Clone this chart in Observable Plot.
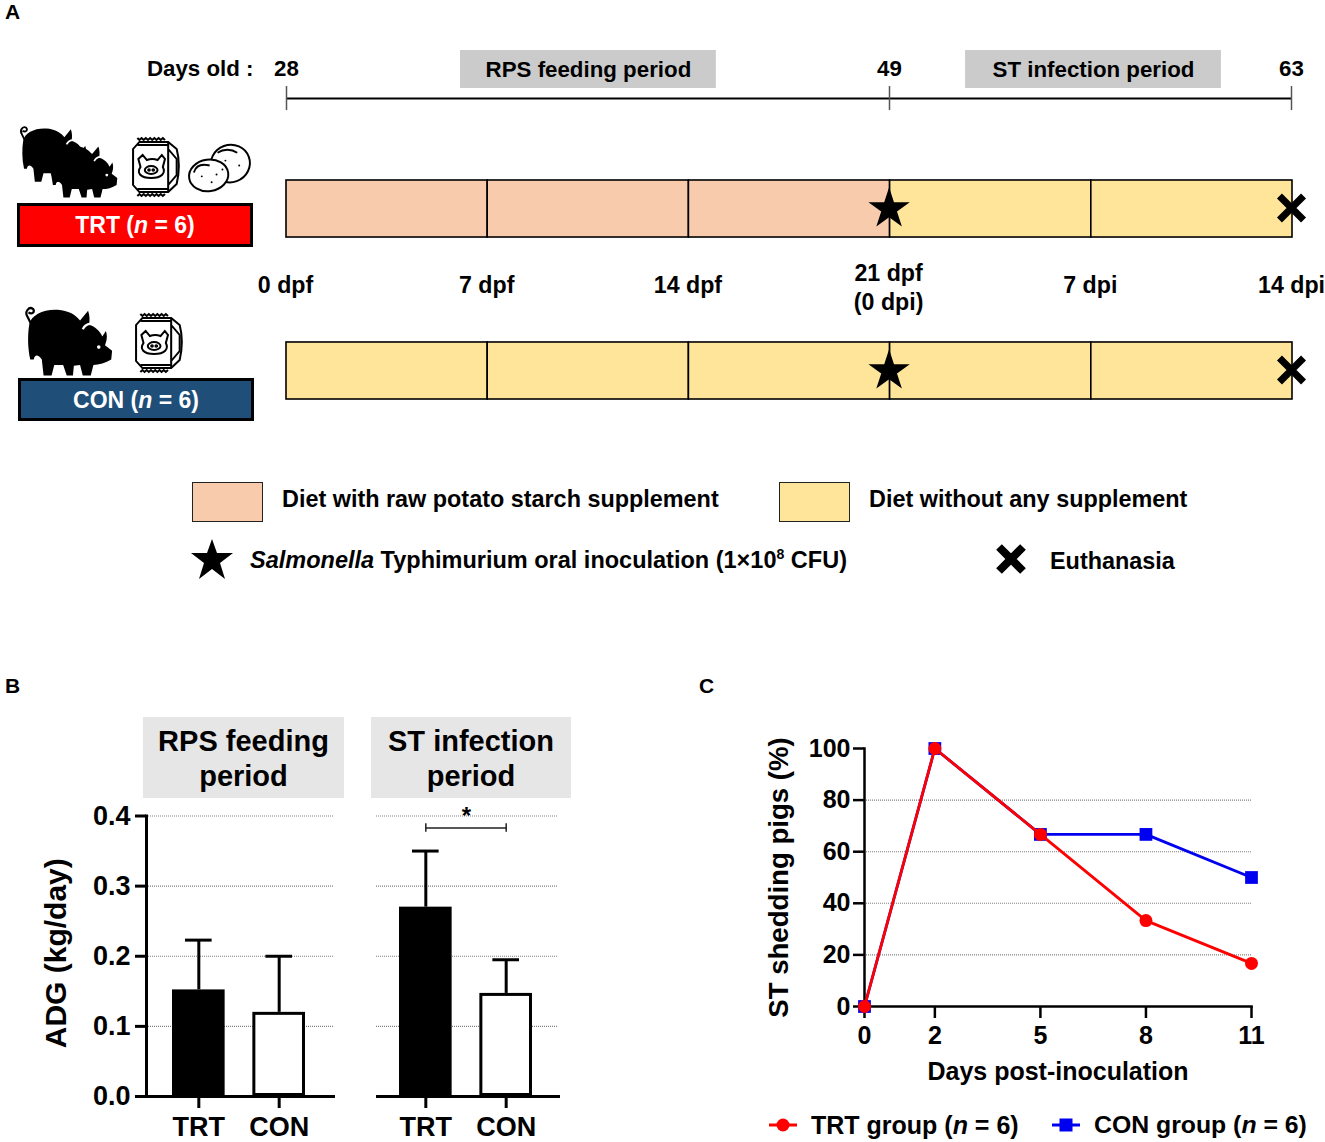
<!DOCTYPE html>
<html>
<head>
<meta charset="utf-8">
<script src="https://cdn.jsdelivr.net/npm/d3@7"></script>
<script src="https://cdn.jsdelivr.net/npm/@observablehq/plot@0.6"></script>
<style>
html,body{margin:0;padding:0;background:#fff;}
#root{position:relative;width:1325px;height:1142px;overflow:hidden;font-family:"Liberation Sans",Arial,sans-serif;font-weight:700;color:#000;background:#fff;}
#root svg{position:absolute;overflow:visible;background:transparent;}
.t{position:absolute;white-space:nowrap;line-height:1;}
.box{position:absolute;box-sizing:border-box;}
.head{position:absolute;background:#e6e6e6;text-align:center;font-size:29px;line-height:35px;padding-top:7px;box-sizing:border-box;}
.group{position:absolute;box-sizing:border-box;border:3px solid #000;color:#fff;text-align:center;font-size:23px;}
sup{font-size:60%;line-height:0;}
</style>
</head>
<body>
<div id="root"></div>
<script>
const FONT = '"Liberation Sans",Arial,sans-serif';

// Panel A
const ageDays = [0, 21, 35];
const ageLabels = ["28", "49", "63"];
const periods = ["RPS feeding period", "ST infection period"];
const periodStart = [6.06, 23.65];
const periodEnd = [14.97, 32.56];
const cellStart = [0, 7, 14, 21, 28];
const cellEnd = [7, 14, 21, 28, 35];
const trtDiet = ["rps", "rps", "rps", "none", "none"];
const conDiet = ["none", "none", "none", "none", "none"];
const timeDays = [0, 7, 14, 21, 28, 35];
const timeLabels = ["0 dpf", "7 dpf", "14 dpf", "21 dpf\n(0 dpi)", "7 dpi", "14 dpi"];
const groupsA = ["TRT", "CON"];
const inoculationDay = 21;
const euthanasiaDay = 35;

// Panel B
const barGroups = ["TRT", "CON"];
const rpsMean = [0.152, 0.12];
const rpsTop = [0.223, 0.2];
const stMean = [0.27, 0.147];
const stTop = [0.35, 0.195];
const adgTicks = [0, 0.1, 0.2, 0.3, 0.4];
const bracketValue = 0.383;

// Panel C
const dpi = [0, 2, 5, 8, 11];
const trtShedding = [0, 100, 66.7, 33.3, 16.7];
const conShedding = [0, 100, 66.7, 66.7, 50];
const sheddingTicks = [0, 20, 40, 60, 80, 100];
const sheddingGrid = [20, 40, 60, 80];

const PEACH = "#f8cbad", YELLOW = "#fee599", RED = "#ff0000", BLUE = "#0000f0";
const root = document.getElementById("root");
function place(node, left, top) { node.style.left = left + "px"; node.style.top = top + "px"; root.appendChild(node); return node; }
function html(s) { root.insertAdjacentHTML("beforeend", s); }
const baseStyle = size => ({fontFamily: FONT, fontWeight: 700, fontSize: size + "px", color: "#000", background: "transparent", overflow: "visible"});

// ---- Panel A: timeline
place(Plot.plot({
  width: 1325, height: 125, margin: 0, style: baseStyle(22),
  x: {domain: [0, 35], range: [286, 1291], axis: null},
  y: {type: "band", domain: ["period", "axis"], range: [57, 110], paddingInner: 0.172, paddingOuter: 0, round: false, axis: null},
  marks: [
    Plot.barX(periods, {x1: (d, i) => periodStart[i], x2: (d, i) => periodEnd[i], y: () => "period", fill: "#cbcbcb", insetTop: -7, insetBottom: -7}),
    Plot.text(periods, {x: (d, i) => (periodStart[i] + periodEnd[i]) / 2, y: () => "period", text: d => d, fill: "#000", fontSize: 22.3}),
    Plot.text(ageDays, {x: d => d, y: () => "period", text: (d, i) => ageLabels[i], fontSize: 22.3, dy: -1}),
    Plot.text(["Days old :"], {x: () => 0, y: () => "period", text: d => d, textAnchor: "end", dx: -33, dy: -1, fontSize: 22.3}),
    Plot.ruleY(["axis"], {x1: () => 0, x2: () => 35, y: d => d, stroke: "#000", strokeWidth: 2}),
    Plot.tickX(ageDays, {x: d => d, y: () => "axis", stroke: "#555", strokeWidth: 1.5})
  ]
}), 0, 0);

// ---- Panel A: feeding lanes
const laneCells = g => cellStart.map((s, i) => ({g, s, e: cellEnd[i], diet: (g === "TRT" ? trtDiet : conDiet)[i]}));
const timeRows = timeDays.map((d, i) => ({d, label: timeLabels[i]}));
place(Plot.plot({
  width: 1325, height: 270, margin: 0, style: baseStyle(23),
  x: {domain: [0, 35], range: [286, 1292], axis: null},
  y: {type: "band", domain: ["TRT", "labels", "CON"], range: [40, 259], paddingInner: 0.296, paddingOuter: 0, round: false, axis: null},
  marks: [
    Plot.barX([...laneCells("TRT"), ...laneCells("CON")], {
      x1: "s", x2: "e", y: "g",
      fill: d => d.diet === "rps" ? PEACH : YELLOW, stroke: "#000", strokeWidth: 1.6
    }),
    Plot.text(timeRows.filter(r => !r.label.includes("\n")), {x: "d", y: () => "labels", text: "label", fontSize: 23.2, dy: -4, dx: -1}),
    Plot.text(timeRows.filter(r => r.label.includes("\n")), {x: "d", y: () => "labels", text: "label", fontSize: 23.2, lineHeight: 1.25, dy: -4, dx: -1.5}),
    Plot.dot(groupsA, {x: () => inoculationDay, y: d => d, symbol: "star", r: 13, fill: "#000", dx: -1}),
    Plot.dot(groupsA, {x: () => euthanasiaDay, y: d => d, symbol: "times", r: 11, stroke: "#000", strokeWidth: 7, dx: -1, dy: -1})
  ]
}), 0, 140);

// ---- Panel letters
html(`<div class="t" style="left:5px;top:1px;font-size:21px">A</div>`);
html(`<div class="t" style="left:5px;top:675px;font-size:21px">B</div>`);
html(`<div class="t" style="left:699px;top:675px;font-size:21px">C</div>`);

// ---- Icons
const pig = (x, y, w, h) => `<svg style="left:${x}px;top:${y}px" width="${w}" height="${h}" viewBox="0 0 100 80">
<path fill="#000" d="M6 22C8 12 22 5 38 6C50 7 57 11 63 18L72 7C74 13 74 18 73 23C80 25 85 30 88 36L92 30C94 36 93 41 91 46L99 52L98 62C92 66 84 68 78 68L75 80H66L63 68L56 69L55 80H48L44 68H34L31 80H22L20 62C16 56 12 56 11 62L7 62C4 48 4 34 6 22Z"/>
<path fill="none" stroke="#000" stroke-width="2.5" d="M8 22L4 14C0 8 6 2 10 5C13 8 9 12 5 9"/>
<circle cx="84" cy="48" r="2" fill="#fff"/>
<path fill="none" stroke="#fff" stroke-width="2.5" d="M66 28C68 24 71 22 75 22"/>
</svg>`;
const bag = (x, y, w, h) => `<svg style="left:${x}px;top:${y}px" width="${w}" height="${h}" viewBox="2 0 47 60" preserveAspectRatio="none" fill="none" stroke="#000" stroke-width="1.9">
<path d="M9 5H36L44 12Q48 28 44 47L36 55H9L3 48V12Z" fill="#fff"/>
<path d="M7 1l2 2 2-2 2 2 2-2 2 2 2-2 2 2 2-2 2 2 2-2 2 2 2-2 2 2M7 59l2-2 2 2 2-2 2 2 2-2 2 2 2-2 2 2 2-2 2 2 2-2 2 2 2-2"/>
<path d="M7 8H36M36 5V55M7 52H36M36 12L44 22V38L36 48"/>
<path d="M8 22L12 18L16 23Q21 21 26 23L30 18L33 22L31 30C34 36 30 41 20 41C10 41 6 36 10 30Z"/>
<ellipse cx="20" cy="33" rx="6" ry="4"/><circle cx="18" cy="33" r=".8"/><circle cx="22" cy="33" r=".8"/>
</svg>`;
const potato = (x, y, w, h) => `<svg style="left:${x}px;top:${y}px" width="${w}" height="${h}" viewBox="0 0 64 50" fill="#fff" stroke="#000" stroke-width="2">
<ellipse cx="43" cy="21" rx="20" ry="19" transform="rotate(-20 43 21)"/>
<ellipse cx="21" cy="33" rx="20" ry="16" transform="rotate(-8 21 33)"/>
<g fill="#000" stroke="none"><circle cx="14" cy="34" r="1"/><circle cx="24" cy="40" r="1"/><circle cx="29" cy="32" r="1"/><circle cx="38" cy="18" r="1"/><circle cx="52" cy="23" r="1"/><circle cx="35" cy="27" r="1"/></g>
<path fill="none" d="M6 30C8 23 14 21 22 23M30 10C36 6 44 6 50 10"/>
</svg>`;
html(pig(19, 124, 72, 58));
html(pig(48, 141, 70, 57));
html(bag(132, 137, 50, 60));
html(potato(188, 142, 63, 51));
html(pig(24, 304, 89, 72));
html(bag(135, 313, 50, 60));

// ---- Group labels
html(`<div class="group" style="left:17px;top:203px;width:236px;height:44px;background:#ff0000;line-height:39px">TRT (<i>n</i> = 6)</div>`);
html(`<div class="group" style="left:18px;top:378px;width:236px;height:43px;background:#1f4e79;line-height:38px">CON (<i>n</i> = 6)</div>`);

// ---- Panel A legend
const swatch = (x, c) => `<div class="box" style="left:${x}px;top:482px;width:71px;height:40px;background:${c};border:1.5px solid #222"></div>`;
html(swatch(192, PEACH));
html(`<div class="t" style="left:282px;top:488px;font-size:23.4px">Diet with raw potato starch supplement</div>`);
html(swatch(779, YELLOW));
html(`<div class="t" style="left:869px;top:488px;font-size:23.4px">Diet without any supplement</div>`);
html(`<svg style="left:190px;top:538px" width="44" height="42" viewBox="-22 -22 44 42"><polygon fill="#000" points="0,-21 5,-7 21,-7 8,3 13,19 0,9 -13,19 -8,3 -21,-7 -5,-7"/></svg>`);
html(`<div class="t" style="left:250px;top:549px;font-size:23.5px"><i>Salmonella</i> Typhimurium oral inoculation (1×10<sup>8</sup> CFU)</div>`);
html(`<svg style="left:995px;top:544px" width="32" height="30" viewBox="0 0 32 30"><path d="M4 3L28 27M28 3L4 27" stroke="#000" stroke-width="8"/></svg>`);
html(`<div class="t" style="left:1050px;top:550px;font-size:23.4px">Euthanasia</div>`);

// ---- Panel B
html(`<div class="head" style="left:143px;top:717px;width:201px;height:81px">RPS feeding<br>period</div>`);
html(`<div class="head" style="left:371px;top:717px;width:200px;height:81px">ST infection<br>period</div>`);

function barPanel({left, width, mL, mR, range, mean, top, showY, gridL, gridR, bracket}) {
  const rows = barGroups.map((g, i) => ({g, m: mean[i], t: top[i]}));
  const marks = [
    Plot.ruleY(adgTicks.slice(1), {y: d => d, stroke: "#808080", strokeWidth: 1.1, strokeDasharray: "1 1", insetLeft: gridL, insetRight: gridR}),
    Plot.ruleY([0], {y: d => d, stroke: "#000", strokeWidth: 3}),
    Plot.ruleX(rows, {x: "g", y1: "m", y2: "t", stroke: "#000", strokeWidth: 3}),
    Plot.tickY(rows, {x: "g", y: "t", stroke: "#000", strokeWidth: 3, insetLeft: 13, insetRight: 13}),
    Plot.barY(rows, {x: "g", y1: () => 0, y2: "m", fill: d => d.g === "TRT" ? "#000" : "#fff", stroke: "#000", strokeWidth: 3, inset: 1.5}),
    Plot.axisX({anchor: "bottom", tickSize: 12, tickPadding: 8, strokeWidth: 3, label: null, fontSize: 27})
  ];
  if (showY) marks.push(
    Plot.frame({anchor: "left", stroke: "#000", strokeWidth: 3}),
    Plot.axisY({anchor: "left", ticks: adgTicks, tickFormat: ".1f", tickSize: 11, tickPadding: 5, strokeWidth: 3, label: null, fontSize: 27}),
    Plot.text(["ADG (kg/day)"], {frameAnchor: "left", text: d => d, textAnchor: "middle", rotate: -90, dx: -90, dy: -3, fontSize: 30})
  );
  if (bracket) marks.push(
    Plot.ruleX(barGroups, {x: d => d, y1: () => bracketValue - 0.006, y2: () => bracketValue + 0.006, stroke: "#222", strokeWidth: 1.5}),
    Plot.line(barGroups, {x: d => d, y: () => bracketValue, stroke: "#222", strokeWidth: 1.5}),
    Plot.text(["*"], {x: () => "TRT", y: () => 0.4, text: d => d, dx: 40.5, dy: 0, fontSize: 24})
  );
  return place(Plot.plot({
    width, height: 342, marginLeft: mL, marginRight: mR, marginTop: 15.5, marginBottom: 46,
    style: baseStyle(27),
    x: {type: "band", domain: barGroups, range, paddingInner: 0.345, paddingOuter: 0, round: false, axis: null},
    y: {domain: [0, 0.4], axis: null},
    marks
  }), left, 800);
}
barPanel({left: 0, width: 345, mL: 146, mR: 10, range: [172, 305], mean: rpsMean, top: rpsTop, showY: true, gridL: 2, gridR: 2, bracket: false});
barPanel({left: 350, width: 230, mL: 26, mR: 20, range: [49, 182], mean: stMean, top: stTop, showY: false, gridL: 0, gridR: 2, bracket: true});

// ---- Panel C
const series = g => dpi.map((d, i) => ({d, v: (g === "TRT" ? trtShedding : conShedding)[i], g}));
place(Plot.plot({
  width: 625, height: 372, marginLeft: 164, marginRight: 74, marginTop: 28, marginBottom: 86,
  style: baseStyle(25),
  x: {domain: [0, 11], axis: null},
  y: {domain: [0, 100], axis: null},
  marks: [
    Plot.ruleY(sheddingGrid, {y: d => d, stroke: "#808080", strokeWidth: 1.1, strokeDasharray: "1 1"}),
    Plot.frame({anchor: "left", stroke: "#000", strokeWidth: 2.5}),
    Plot.frame({anchor: "bottom", stroke: "#000", strokeWidth: 2.5}),
    Plot.axisY({anchor: "left", ticks: sheddingTicks, tickSize: 11, tickPadding: 3, strokeWidth: 2.5, label: null, fontSize: 25}),
    Plot.axisX({anchor: "bottom", ticks: dpi, tickSize: 12, tickPadding: 8, strokeWidth: 2.5, label: null, fontSize: 25}),
    Plot.line(series("CON"), {x: "d", y: "v", stroke: BLUE, strokeWidth: 2.8}),
    Plot.dot(series("CON"), {x: "d", y: "v", symbol: "square", r: 7.2, fill: BLUE}),
    Plot.line(series("TRT"), {x: "d", y: "v", stroke: RED, strokeWidth: 2.8}),
    Plot.dot(series("TRT"), {x: "d", y: "v", r: 6.5, fill: RED}),
    Plot.text(["Days post-inoculation"], {frameAnchor: "bottom", text: d => d, dy: 73, fontSize: 25}),
    Plot.text(["ST shedding pigs (%)"], {frameAnchor: "left", text: d => d, textAnchor: "middle", rotate: -90, dx: -85, fontSize: 27.6})
  ]
}), 700, 720);

// ---- Panel C legend
html(`<svg style="left:768px;top:1115px" width="30" height="20"><line x1="1" x2="29" y1="10" y2="10" stroke="${RED}" stroke-width="3"/><circle cx="15" cy="10" r="6.5" fill="${RED}"/></svg>`);
html(`<div class="t" style="left:811px;top:1113px;font-size:25px">TRT group (<i>n</i> = 6)</div>`);
html(`<svg style="left:1051px;top:1115px" width="30" height="20"><line x1="1" x2="29" y1="10" y2="10" stroke="${BLUE}" stroke-width="3"/><rect x="8.5" y="3.5" width="13" height="13" fill="${BLUE}"/></svg>`);
html(`<div class="t" style="left:1094px;top:1113px;font-size:24.8px">CON group (<i>n</i> = 6)</div>`);
</script>
</body>
</html>
